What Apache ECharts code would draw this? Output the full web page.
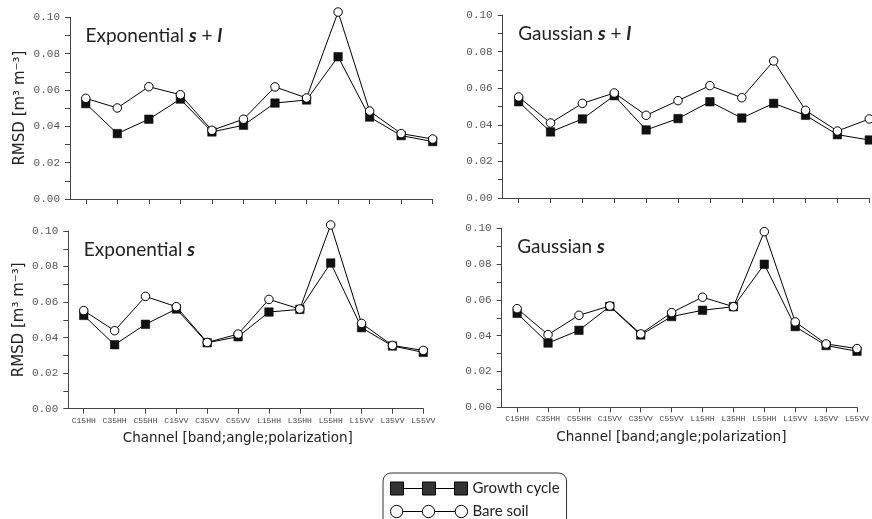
<!DOCTYPE html>
<html>
<head>
<meta charset="utf-8">
<title>RMSD by channel</title>
<script src="https://cdn.jsdelivr.net/npm/echarts@6/dist/echarts.min.js"></script>
<style>
  html, body { margin: 0; padding: 0; background: #fff; }
  #chart { width: 872px; height: 519px; }
</style>
</head>
<body>
<div id="chart"></div>
<script>
// SAR channels: band, incidence angle, polarization
const categories = ['C15HH', 'C35HH', 'C55HH', 'C15VV', 'C35VV', 'C55VV',
                    'L15HH', 'L35HH', 'L55HH', 'L15VV', 'L35VV', 'L55VV'];

// RMSD [m3 m-3] for each roughness model
const expSLGrowth = [0.0525, 0.0360, 0.0439, 0.0550, 0.0369, 0.0406, 0.0528, 0.0545, 0.0783, 0.0451, 0.0349, 0.0316];
const expSLBare   = [0.0554, 0.0501, 0.0618, 0.0574, 0.0378, 0.0439, 0.0617, 0.0556, 0.1029, 0.0484, 0.0360, 0.0330];
const gauSLGrowth = [0.0526, 0.0361, 0.0432, 0.0559, 0.0372, 0.0434, 0.0526, 0.0437, 0.0517, 0.0452, 0.0346, 0.0317];
const gauSLBare   = [0.0552, 0.0410, 0.0517, 0.0574, 0.0452, 0.0532, 0.0614, 0.0548, 0.0749, 0.0479, 0.0366, 0.0432];
const expSGrowth  = [0.0525, 0.0360, 0.0475, 0.0561, 0.0371, 0.0405, 0.0544, 0.0559, 0.0820, 0.0456, 0.0353, 0.0317];
const expSBare    = [0.0552, 0.0439, 0.0632, 0.0574, 0.0373, 0.0420, 0.0615, 0.0561, 0.1034, 0.0480, 0.0356, 0.0328];
const gauSGrowth  = [0.0525, 0.0359, 0.0430, 0.0564, 0.0404, 0.0507, 0.0542, 0.0562, 0.0799, 0.0451, 0.0345, 0.0313];
const gauSBare    = [0.0551, 0.0406, 0.0514, 0.0566, 0.0410, 0.0529, 0.0615, 0.0562, 0.0981, 0.0477, 0.0354, 0.0328];

const seriesNames = ['Growth cycle', 'Bare soil'];

const panels = [
  { title: ['Exponential ', 's', ' + ', 'l'], growth: expSLGrowth, bare: expSLBare,
    grid: { left: 70, top: 17.3, width: 362.7, height: 181.7 }, yName: true, xLabels: false },
  { title: ['Gaussian ', 's', ' + ', 'l'], growth: gauSLGrowth, bare: gauSLBare,
    grid: { left: 502.7, top: 15, width: 366.6, height: 183 }, yName: false, xLabels: false },
  { title: ['Exponential ', 's'], growth: expSGrowth, bare: expSBare,
    grid: { left: 68.3, top: 231, width: 355, height: 177.7 }, yName: true, xLabels: true },
  { title: ['Gaussian ', 's'], growth: gauSGrowth, bare: gauSBare,
    grid: { left: 501.7, top: 228.3, width: 359.3, height: 179 }, yName: false, xLabels: true }
];

const axisColor = '#444';
const catIdx = categories.map((_, i) => i);
const toPoints = arr => arr.map((v, i) => [i, v]);

const grids = [], xAxes = [], yAxes = [], series = [], titles = [];

panels.forEach((p, k) => {
  grids.push(Object.assign({ containLabel: false }, p.grid));

  xAxes.push({
    type: 'value', gridIndex: k, min: -0.5, max: categories.length - 1,
    axisLine: { onZero: false, lineStyle: { color: axisColor, width: 1 } },
    axisTick: { show: true, length: 5, customValues: catIdx, lineStyle: { color: axisColor } },
    axisLabel: {
      show: p.xLabels, customValues: catIdx, margin: 8,
      formatter: v => categories[Math.round(v)] || '',
      fontFamily: 'Liberation Mono', fontSize: 8, color: '#444'
    },
    splitLine: { show: false },
    name: p.xLabels ? 'Channel [band;angle;polarization]' : '',
    nameLocation: 'middle', nameGap: 23,
    nameTextStyle: { fontFamily: 'DejaVu Sans', fontSize: 13.5, color: '#222', padding: [0, 16, 0, 0] }
  });

  yAxes.push({
    type: 'value', gridIndex: k, min: 0, max: 0.1, interval: 0.02,
    axisLine: { show: true, onZero: false, lineStyle: { color: axisColor, width: 1 } },
    axisTick: { show: true, length: 5, lineStyle: { color: axisColor } },
    minorTick: { show: true, splitNumber: 2, length: 5, lineStyle: { color: axisColor } },
    axisLabel: {
      formatter: v => v.toFixed(2), margin: 10,
      fontFamily: 'Liberation Mono', fontSize: 11, color: '#555'
    },
    splitLine: { show: false },
    name: p.yName ? 'RMSD [m³ m⁻³]' : '',
    nameLocation: 'middle', nameGap: 42,
    nameTextStyle: { fontFamily: 'DejaVu Sans', fontSize: 15, color: '#222' }
  });

  series.push({
    name: seriesNames[0], type: 'line', xAxisIndex: k, yAxisIndex: k,
    data: toPoints(p.growth), symbol: 'rect', symbolSize: 8.5, clip: false,
    itemStyle: { color: '#111', borderColor: '#000', borderWidth: 0.5 },
    lineStyle: { color: '#000', width: 1 }, z: 2
  });
  series.push({
    name: seriesNames[1], type: 'line', xAxisIndex: k, yAxisIndex: k,
    data: toPoints(p.bare), symbol: 'circle', symbolSize: 8.5, clip: false,
    itemStyle: { color: '#fff', borderColor: '#000', borderWidth: 1 },
    lineStyle: { color: '#000', width: 1 }, z: 3
  });

  const parts = p.title.map((t, j) => (j % 2 === 1 ? '{i|' + t + '}' : '{n|' + t + '}'));
  titles.push({
    text: parts.join(''),
    left: p.grid.left + 15.5,
    top: p.grid.top + 9,
    padding: 0,
    textStyle: {
      fontWeight: 'normal',
      rich: {
        n: { fontFamily: 'Lato', fontSize: 19, fontWeight: 'normal', color: '#222' },
        i: { fontFamily: 'Lato', fontSize: 19, fontStyle: 'italic', fontWeight: 'bold', color: '#222' }
      }
    }
  });
});

// Legend icons: three markers joined by a line
const growthIcon = 'path://M0,1H13V14H0Z M13,7.5H32 M32,1H45V14H32Z M45,7.5H64 M64,1H77V14H64Z';
const bareIcon = 'path://M1,7.5A6,6 0 1 0 13,7.5A6,6 0 1 0 1,7.5Z M13,7.5H32 M32,7.5A6,6 0 1 0 44,7.5A6,6 0 1 0 32,7.5Z M44,7.5H64 M64,7.5A6,6 0 1 0 76,7.5A6,6 0 1 0 64,7.5Z';

const chart = echarts.init(document.getElementById('chart'), null, { renderer: 'canvas' });
chart.setOption({
  animation: false,
  backgroundColor: '#fff',
  title: titles,
  grid: grids,
  xAxis: xAxes,
  yAxis: yAxes,
  legend: {
    orient: 'horizontal', left: 383, top: 473, width: 164,
    padding: [8, 7, 8, 7], itemGap: 8,
    itemWidth: 77, itemHeight: 15,
    borderColor: '#333', borderWidth: 1, borderRadius: 8,
    selectedMode: false,
    textStyle: { fontFamily: 'Lato', fontSize: 15, color: '#222' },
    data: [
      { name: seriesNames[0], icon: growthIcon,
        itemStyle: { color: '#333', borderColor: '#000', borderWidth: 1 } },
      { name: seriesNames[1], icon: bareIcon,
        itemStyle: { color: '#fff', borderColor: '#000', borderWidth: 1 } }
    ]
  },
  series: series
});
</script>
</body>
</html>
